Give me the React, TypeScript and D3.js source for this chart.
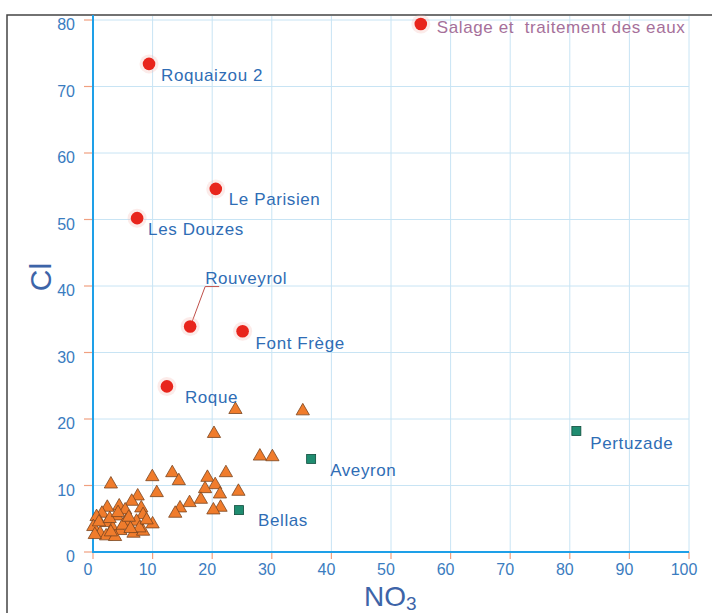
import { useEffect, useRef } from "react";
import * as d3 from "d3";

// named sites (red circles)
const siteNames = ["Salage et  traitement des eaux", "Roquaizou 2", "Le Parisien", "Les Douzes", "Rouveyrol", "Font Frège", "Roque"];
const siteNO3 = [55.0, 9.4, 20.6, 7.4, 16.3, 25.1, 12.4];
const siteCl = [79.4, 73.4, 54.6, 50.2, 33.9, 33.2, 24.9];

// green squares
const squareNames = ["Aveyron", "Bellas", "Pertuzade"];
const squareNO3 = [36.6, 24.5, 81.1];
const squareCl = [14.0, 6.3, 18.2];

// orange triangles
const triNO3 = [23.9, 35.2, 20.3, 28.0, 30.1, 13.3, 22.3, 9.95, 19.2, 14.4, 3.0, 20.5, 18.8, 24.4, 10.7, 21.3, 7.5, 6.5, 18.1, 16.2, 4.4, 14.6, 21.4, 20.2, 13.8, 2.4, 8.1, 5.4, 1.5, 8.4, 4.0, 0.6, 7.3, 10.0, 2.4, 5.5, 0.05, 3.3, 4.6, 1.2, 2.2, 6.8, 8.4, 0.3, 3.7, 1.0, 2.8, 5.0, 6.0, 3.0, 7.8, 9.0, 4.2, 6.3];
const triCl = [21.4, 21.2, 17.8, 14.4, 14.3, 11.9, 11.9, 11.3, 11.2, 10.7, 10.2, 10.1, 9.5, 9.1, 8.9, 8.7, 8.4, 7.6, 7.9, 7.4, 6.9, 6.6, 6.7, 6.3, 5.8, 6.7, 6.6, 6.3, 5.8, 5.6, 5.4, 5.3, 4.6, 4.2, 4.4, 4.6, 3.8, 3.6, 3.2, 2.8, 2.4, 2.8, 3.1, 2.6, 2.3, 4.5, 5.0, 4.0, 5.2, 3.0, 3.6, 4.8, 5.9, 3.5];

const xTicks = [0, 10, 20, 30, 40, 50, 60, 70, 80, 90, 100];
const yTicks = [0, 10, 20, 30, 40, 50, 60, 70, 80];

// label offsets in px from the mark
const siteLabelOffsets = [[16, 9], [12, 17], [13, 16], [11, 17], [15, -43], [13, 18], [18, 17]];
const squareLabelOffsets = [[19, 17], [19, 16], [14, 18]];

const App = () => {
    const svgRef: any = useRef<SVGSVGElement>(null);

    useEffect(() => {
        const W = 712;
        const H = 613;
        const svg = d3.select(svgRef.current);
        svg.selectAll("*").remove();

        const x = d3.scaleLinear().domain([0, 100]).range([93, 689]);
        const y = d3.scaleLinear().domain([0, 80]).range([552, 20]);

        svg.append("rect").attr("width", W).attr("height", H).attr("fill", "#fff");

        // frame
        svg.append("path")
            .attr("d", `M7,${H} L7,15 L${W},15`)
            .attr("fill", "none")
            .attr("stroke", "#444")
            .attr("stroke-width", 1.5);

        const font = "'Liberation Sans', Arial, sans-serif";

        // grid
        svg.append("g").selectAll("line")
            .data(xTicks.slice(1))
            .join("line")
            .attr("x1", d => x(d)).attr("x2", d => x(d))
            .attr("y1", 16).attr("y2", y(0))
            .attr("stroke", "#c8e4f4").attr("stroke-width", 1);
        svg.append("g").selectAll("line")
            .data(yTicks.slice(1))
            .join("line")
            .attr("x1", x(0)).attr("x2", x(100))
            .attr("y1", d => y(d)).attr("y2", d => y(d))
            .attr("stroke", "#c8e4f4").attr("stroke-width", 1);

        // tick marks
        svg.append("g").selectAll("line")
            .data(yTicks)
            .join("line")
            .attr("x1", x(0) - 9).attr("x2", x(0))
            .attr("y1", d => y(d)).attr("y2", d => y(d))
            .attr("stroke", "#f0a080").attr("stroke-width", 1.2);
        svg.append("g").selectAll("line")
            .data(xTicks)
            .join("line")
            .attr("x1", d => x(d)).attr("x2", d => x(d))
            .attr("y1", y(0)).attr("y2", y(0) + 7)
            .attr("stroke", "#f0a080").attr("stroke-width", 1.2);

        // axes lines
        svg.append("line")
            .attr("x1", x(0)).attr("x2", x(0)).attr("y1", 15).attr("y2", y(0) + 1)
            .attr("stroke", "#1ea0e8").attr("stroke-width", 2);
        svg.append("line")
            .attr("x1", x(0) - 1).attr("x2", x(100)).attr("y1", y(0)).attr("y2", y(0))
            .attr("stroke", "#1ea0e8").attr("stroke-width", 2.2);

        // tick labels
        svg.append("g").selectAll("text")
            .data(yTicks)
            .join("text")
            .attr("x", 75).attr("y", d => y(d) + 10)
            .attr("text-anchor", "end")
            .attr("font-family", font).attr("font-size", 16)
            .attr("fill", "#3a7cc0")
            .text(d => d);
        svg.append("g").selectAll("text")
            .data(xTicks)
            .join("text")
            .attr("x", d => x(d) - 5).attr("y", 575)
            .attr("text-anchor", "middle")
            .attr("font-family", font).attr("font-size", 16)
            .attr("fill", "#3a7cc0")
            .text(d => d);

        // axis titles
        const xt = svg.append("text")
            .attr("x", 364).attr("y", 606)
            .attr("font-family", font).attr("font-size", 28)
            .attr("fill", "#3d64a8");
        xt.append("tspan").text("NO");
        xt.append("tspan").attr("font-size", 19).attr("dy", 4).text("3");

        svg.append("text")
            .attr("transform", `translate(51,277) rotate(-90)`)
            .attr("text-anchor", "middle")
            .attr("font-family", font).attr("font-size", 30)
            .attr("fill", "#3d64a8")
            .text("Cl");

        // triangles
        const tri = d3.symbol().type(d3.symbolTriangle).size(76);
        svg.append("g").selectAll("path")
            .data(triNO3.map((v, i) => [v, triCl[i]]))
            .join("path")
            .attr("d", tri)
            .attr("transform", d => `translate(${x(d[0])},${y(d[1])})`)
            .attr("fill", "#f07c2c")
            .attr("stroke", "#7a4520")
            .attr("stroke-width", 0.8);

        // squares
        svg.append("g").selectAll("rect")
            .data(squareNO3.map((v, i) => [v, squareCl[i]]))
            .join("rect")
            .attr("x", d => x(d[0]) - 4.5).attr("y", d => y(d[1]) - 4.5)
            .attr("width", 9).attr("height", 9)
            .attr("fill", "#1f8c70")
            .attr("stroke", "#0e4d3c")
            .attr("stroke-width", 0.8);

        // leader line for Rouveyrol
        const ri = siteNames.indexOf("Rouveyrol");
        const rx = x(siteNO3[ri]);
        const ry = y(siteCl[ri]);
        svg.append("path")
            .attr("d", `M${rx + 2},${ry - 5} L${rx + 15},${ry - 40} L${rx + 29},${ry - 40}`)
            .attr("fill", "none")
            .attr("stroke", "#c0504a")
            .attr("stroke-width", 1);

        // red circles
        svg.append("g").selectAll("circle")
            .data(siteNO3.map((v, i) => [v, siteCl[i]]))
            .join("circle")
            .attr("cx", d => x(d[0])).attr("cy", d => y(d[1]))
            .attr("r", 9.5)
            .attr("fill", "#f4b0a8")
            .attr("opacity", 0.25);
        svg.append("g").selectAll("circle")
            .data(siteNO3.map((v, i) => [v, siteCl[i]]))
            .join("circle")
            .attr("cx", d => x(d[0])).attr("cy", d => y(d[1]))
            .attr("r", 6.3)
            .attr("fill", "#e8251c");

        // labels
        svg.append("g").selectAll("text")
            .data(siteNames)
            .join("text")
            .attr("x", (d, i) => x(siteNO3[i]) + siteLabelOffsets[i][0])
            .attr("y", (d, i) => y(siteCl[i]) + siteLabelOffsets[i][1])
            .attr("font-family", font).attr("font-size", 17)
            .attr("letter-spacing", 0.6)
            .style("white-space", "pre")
            .attr("fill", (d, i) => (i === 0 ? "#a6709a" : "#2f6db5"))
            .text(d => d);
        svg.append("g").selectAll("text")
            .data(squareNames)
            .join("text")
            .attr("x", (d, i) => x(squareNO3[i]) + squareLabelOffsets[i][0])
            .attr("y", (d, i) => y(squareCl[i]) + squareLabelOffsets[i][1])
            .attr("font-family", font).attr("font-size", 17)
            .attr("letter-spacing", 0.6)
            .attr("fill", "#2f6db5")
            .text(d => d);
    }, []);

    return (
        <svg
            ref={svgRef}
            width={712}
            height={613}
            style={{ position: "absolute", left: 0, top: 0, display: "block" }}
        />
    );
};

export default App;
